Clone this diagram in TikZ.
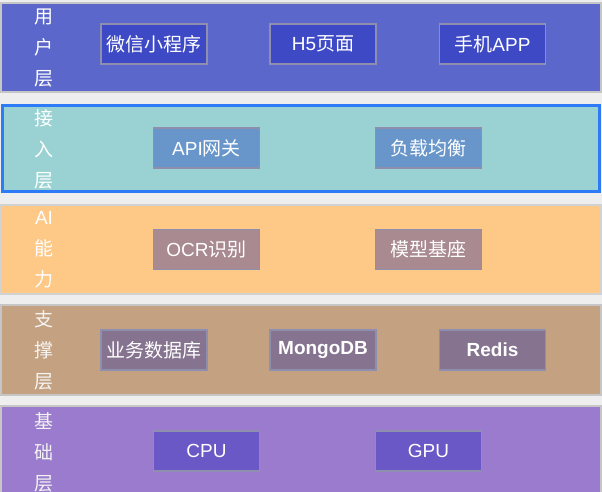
\documentclass[tikz,border=0pt]{standalone}
\usepackage{fontspec}
\setmainfont{Liberation Sans}
\newfontfamily\cjk{Noto Sans CJK SC}

\begin{document}
\begin{tikzpicture}[x=0.02cm, y=-0.02cm,
    box/.style={draw=boxline, line width=0.6pt, minimum width=2.12cm,
        minimum height=0.8cm, inner sep=0pt, text=white,
        font=\fontsize{10.8}{13}\selectfont},
    tag/.style={align=center, inner sep=0pt,
        font=\fontsize{10.8}{17.6}\selectfont\cjk}]
    \definecolor{bg}{HTML}{EEEEEE}
    \definecolor{boxline}{HTML}{8E8EAE}
    \definecolor{user}{HTML}{5C67CB}
    \definecolor{userbox}{HTML}{3E4AC5}
    \definecolor{access}{HTML}{9AD2D3}
    \definecolor{accessbox}{HTML}{6896CB}
    \definecolor{accessline}{HTML}{2D7BF6}
    \definecolor{ai}{HTML}{FEC887}
    \definecolor{aibox}{HTML}{A88A90}
    \definecolor{support}{HTML}{C4A181}
    \definecolor{supportbox}{HTML}{85738F}
    \definecolor{base}{HTML}{9B7BCD}
    \definecolor{basebox}{HTML}{6A58C6}

    \useasboundingbox (0,0) rectangle (602,492);
    \clip (0,0) rectangle (602,492);
    \fill[bg] (0,0) rectangle (602,492);

    % layer bands
    \filldraw[fill=user, draw=gray!45, line width=0.6pt] (1,3) rectangle (601,92);
    \filldraw[fill=access, draw=accessline, line width=1.7pt] (2.5,105.5) rectangle (599.5,191.5);
    \filldraw[fill=ai, draw=gray!35, line width=0.6pt] (1,205) rectangle (601,294);
    \filldraw[fill=support, draw=gray!45, line width=0.6pt] (1,305) rectangle (601,395);
    \filldraw[fill=base, draw=gray!45, line width=0.6pt] (1,406) rectangle (601,500);

    % layer names
    \node[tag, text=white] (lu) at (44,48) {用\\户\\层};
    \node[tag, text=white] (la) at (44,149) {接\\入\\层};
    \node[tag, text=white] (lm) at (44,250) {{\rmfamily AI}\\能\\力};
    \node[tag, text=white!92!gray] (ls) at (44,350) {支\\撑\\层};
    \node[tag, text=white!90!gray] (lb) at (44,452) {基\\础\\层};

    % user layer
    \node[box, fill=userbox] (u1) at (154,44) {{\cjk 微信小程序}};
    \node[box, fill=userbox] (u2) at (323,44) {H5{\cjk 页面}};
    \node[box, fill=userbox] (u3) at (492.5,44) {{\cjk 手机}APP};
    % access layer
    \node[box, fill=accessbox] (a1) at (206.5,148) {API{\cjk 网关}};
    \node[box, fill=accessbox] (a2) at (428.5,148) {{\cjk 负载均衡}};
    % AI layer
    \node[box, fill=aibox] (m1) at (206.5,249.5) {OCR{\cjk 识别}};
    \node[box, fill=aibox] (m2) at (428.5,249.5) {{\cjk 模型基座}};
    % support layer
    \node[box, fill=supportbox] (s1) at (154,350) {{\cjk 业务数据库}};
    \node[box, fill=supportbox] (s2) at (323,350) {\bfseries MongoDB};
    \node[box, fill=supportbox] (s3) at (492.5,350) {\bfseries Redis};
    % base layer
    \node[box, fill=basebox] (b1) at (206.5,451) {CPU};
    \node[box, fill=basebox] (b2) at (428.5,451) {GPU};
\end{tikzpicture}
\end{document}
